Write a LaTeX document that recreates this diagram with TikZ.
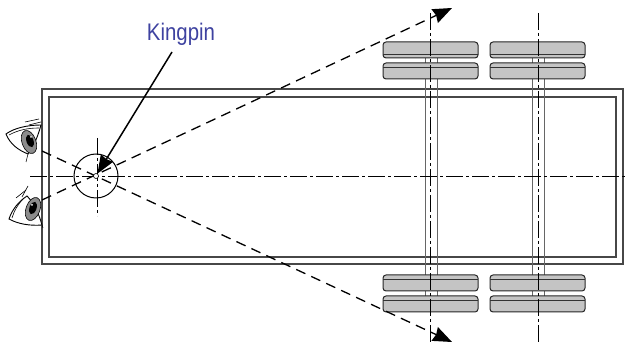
\documentclass[tikz,border=0pt]{standalone}
\usepackage{fontspec}
\setmainfont{Liberation Sans}
\newfontfamily\labelfont[FakeStretch=0.85]{Liberation Sans}
\usetikzlibrary{arrows.meta}
\definecolor{tiregray}{RGB}{196,196,196}
\definecolor{labelblue}{RGB}{62,66,160}
\tikzset{
  body/.style={draw=black!72, line width=1.3pt},
  axle/.style={draw=black!60, line width=0.8pt},
  tire/.style={draw=black!85, fill=tiregray, line width=1pt, rounded corners=3pt},
  tireline/.style={draw=black!80, line width=0.8pt},
  center/.style={draw=black, line width=0.7pt, dash pattern=on 17pt off 3pt on 3pt off 3pt},
  sight/.style={draw=black, line width=1.3pt, dash pattern=on 10pt off 6.5pt, -{Triangle[length=19pt,width=15pt,inset=1.5pt]}},
  eyeline/.style={draw=black, line width=0.9pt, fill=white},
  lash/.style={draw=black, line width=0.6pt},
  iris/.style={draw=black, line width=0.6pt, fill=black!45},
}
\begin{document}
\begin{tikzpicture}[x=1pt,y=-1pt]
\useasboundingbox (0,0) rectangle (627,344);
% trailer
\draw[body] (42,89) rectangle (623,264);
\draw[body] (49,97) rectangle (616,257);
% axles
\foreach \ax in {425,532}{
  \draw[axle] (\ax,58) -- (\ax,296);
  \draw[axle] (\ax+12.5,58) -- (\ax+12.5,296);
}
% tires
\foreach \tx in {383,490}{
  \draw[tire] (\tx,42) rectangle (\tx+95,58);
  \draw[tireline] (\tx,54) -- (\tx+95,54);
  \foreach \ty in {63,275,296}{
    \draw[tire] (\tx,\ty) rectangle (\tx+95,\ty+16);
    \draw[tireline] (\tx,\ty+4) -- (\tx+95,\ty+4);
  }
}
% center lines
\draw[center] (30,176) -- (627,176);
\draw[center] (97,138) -- (97,216);
\foreach \ax in {430,538}{
  \draw[center] (\ax,13) -- (\ax,342);
}
% sight lines
\coordinate (eyetop) at (42,151);
\coordinate (eyebot) at (42,200);
\coordinate (tipup) at (452,8);
\coordinate (tipdown) at (452,342);
\draw[sight] (eyetop) -- (tipdown);
\draw[sight] (eyebot) -- (tipup);
% kingpin
\node[circle, draw, line width=1pt, minimum size=44pt, inner sep=0pt] (kingpin) at (96,176) {};
\node[circle, draw, fill=white, line width=0.6pt, minimum size=5pt, inner sep=0pt] (pin) at (96,176) {};
% label
\node[text=labelblue, font=\labelfont\fontsize{24}{24}\selectfont, inner sep=0pt] (label) at (181,34) {Kingpin};
\coordinate (tail) at (172,52);
\draw[black, line width=1.5pt, -{Triangle[length=18pt,width=14pt,inset=1pt]}] (tail) -- (pin);
% upper eye
\draw[eyeline] (41,125) .. controls (28,125) and (14,128) .. (6,134) .. controls (10,144) and (18,150) .. (28,154) .. controls (34,146) and (38,136) .. (41,125) -- cycle;
\draw[lash] (9,135) .. controls (18,130) and (28,128) .. (39,128);
\draw[iris, rotate around={20:(29,142)}] (29,142) ellipse (7pt and 12pt);
\fill[black, rotate around={20:(30,141)}] (30,141) ellipse (3.5pt and 6.5pt);
\fill[white] (31,137) circle (1pt);
\draw[lash] (25,122) -- (39,119);
\draw[lash] (29,125) -- (41,122);
\draw[lash] (28,154) -- (26,162);
% lower eye
\draw[eyeline] (27,196) .. controls (18,202) and (12,210) .. (9,219) .. controls (18,224) and (30,226) .. (42,225) .. controls (39,214) and (34,203) .. (27,196) -- cycle;
\draw[lash] (24,198) .. controls (18,204) and (14,211) .. (12,218);
\draw[iris, rotate around={-20:(33,209)}] (33,209) ellipse (7pt and 12pt);
\fill[black, rotate around={-20:(33,208)}] (33,208) ellipse (3.5pt and 6.5pt);
\fill[white] (32,205) circle (1pt);
\draw[lash] (16,198) -- (26,190);
\draw[lash] (22,197) -- (28,186);
\draw[lash] (42,225) -- (43,228);
\end{tikzpicture}
\end{document}
